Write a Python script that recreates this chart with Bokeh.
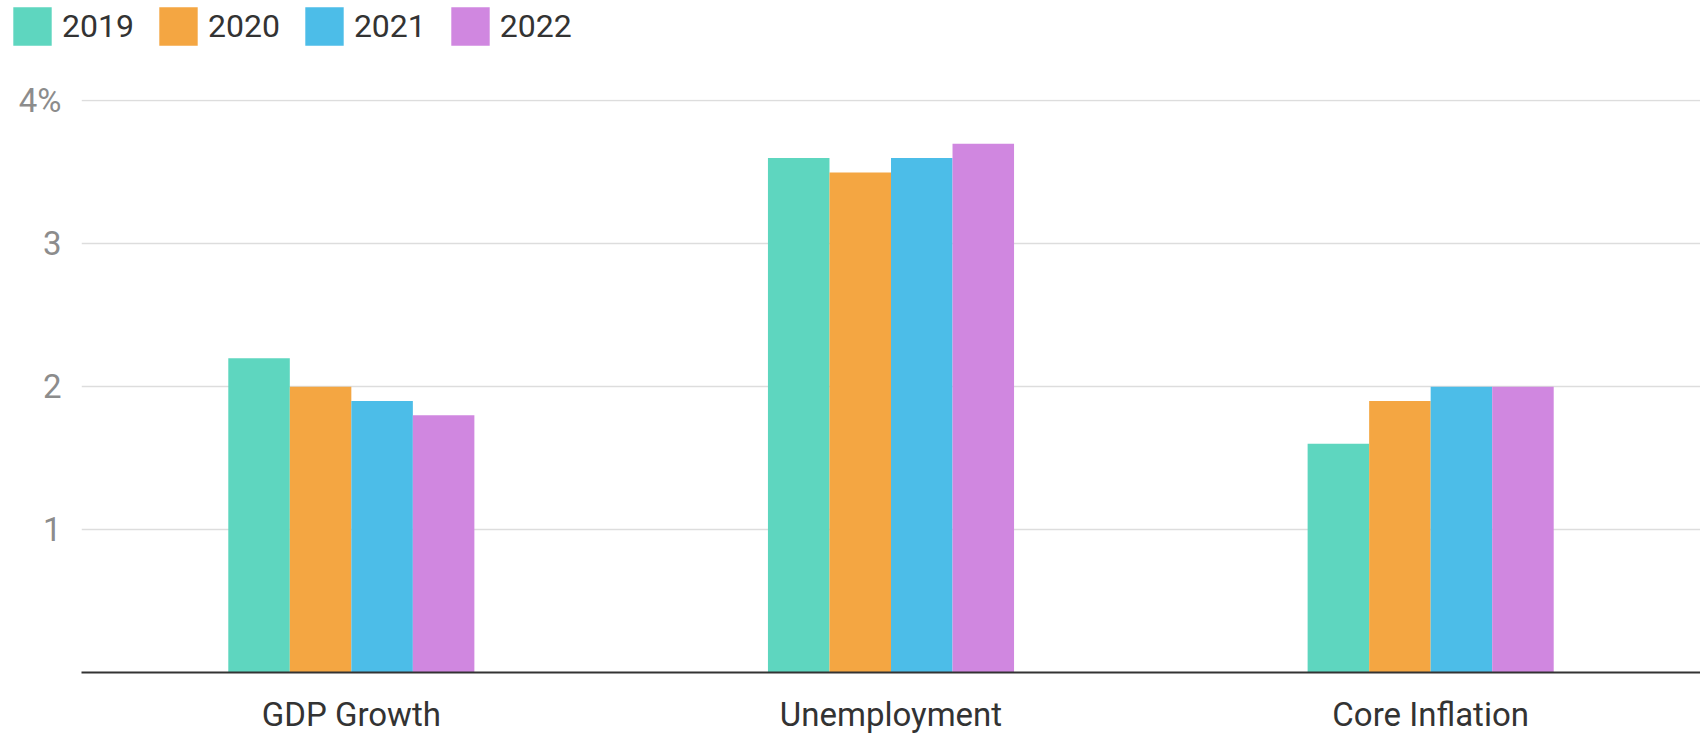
from bokeh.plotting import figure
from bokeh.layouts import column
from bokeh.models import FactorRange, Range1d, FixedTicker, Legend, LegendItem, ColumnDataSource
from bokeh.transform import dodge
from bokeh.embed import file_html
from bokeh.resources import INLINE

categories = ["GDP Growth", "Unemployment", "Core Inflation"]
years = ["2019", "2020", "2021", "2022"]
v2019 = [2.2, 3.6, 1.6]
v2020 = [2.0, 3.5, 1.9]
v2021 = [1.9, 3.6, 2.0]
v2022 = [1.8, 3.7, 2.0]
colors = ["#5ed6bf", "#f4a642", "#4cbde8", "#d087e0"]
y_ticks = [0, 1, 2, 3, 4]

FONT = "Roboto"
LEG_H = 55

src = ColumnDataSource(dict(cat=categories, y2019=v2019, y2020=v2020, y2021=v2021, y2022=v2022))

# ---- legend strip ----
lf = figure(width=1700, height=LEG_H, x_range=FactorRange(*categories), y_range=Range1d(0, 1),
            output_backend="svg", toolbar_location=None,
            x_axis_location=None, y_axis_location=None,
            min_border=0, min_border_left=0, min_border_right=0, min_border_top=0, min_border_bottom=0)
lf.frame_align = False
lf.outline_line_color = None
lf.xgrid.visible = False
lf.ygrid.visible = False
leg_renderers = []
for yr, col in zip(years, colors):
    leg_renderers.append(lf.vbar(x="cat", top="y" + yr, width=0.1, source=src,
                                 fill_color=col, line_color=None, visible=False))
legend = Legend(items=[LegendItem(label=yr, renderers=[r]) for yr, r in zip(years, leg_renderers)],
                orientation="horizontal", location=(8, 5),
                glyph_width=48, glyph_height=48, label_standoff=6, spacing=20,
                padding=0, margin=0, border_line_color=None, background_fill_alpha=0,
                inactive_fill_alpha=0, click_policy="none",
                label_text_font=FONT, label_text_font_size="32px", label_text_color="#333333")
lf.add_layout(legend, "center")

# ---- main chart ----
p = figure(width=1700, height=736 - LEG_H, x_range=FactorRange(*categories, range_padding=0),
           y_range=Range1d(0, 4.01), output_backend="svg", toolbar_location=None,
           min_border_left=81, min_border_right=0, min_border_top=100 - LEG_H - 1, min_border_bottom=63)

bw = 0.114
offsets = [-1.5 * bw, -0.5 * bw, 0.5 * bw, 1.5 * bw]
for yr, off, col in zip(years, offsets, colors):
    p.vbar(x=dodge("cat", off, range=p.x_range), top="y" + yr, width=bw, source=src,
           fill_color=col, line_color=None)

p.outline_line_color = None
p.xgrid.grid_line_color = None
p.ygrid.grid_line_color = "#dddddd"
p.ygrid.grid_line_width = 1.5
p.ygrid.ticker = FixedTicker(ticks=y_ticks)

p.yaxis.ticker = FixedTicker(ticks=y_ticks)
p.yaxis.major_label_overrides = {0: "", 4: "4%"}
p.yaxis.axis_line_color = None
p.yaxis.major_tick_line_color = None
p.yaxis.minor_tick_line_color = None
p.yaxis.major_label_text_font = FONT
p.yaxis.major_label_text_font_size = "33px"
p.yaxis.major_label_text_color = "#8c8c8c"
p.yaxis.major_label_standoff = 14

p.xaxis.axis_line_color = "#333333"
p.xaxis.axis_line_width = 2
p.xaxis.major_tick_line_color = None
p.xaxis.minor_tick_line_color = None
p.xaxis.major_label_text_font = FONT
p.xaxis.major_label_text_font_size = "33px"
p.xaxis.major_label_text_color = "#333333"
p.xaxis.major_label_standoff = 16

layout = column(lf, p, spacing=0)
open("out.html", "w").write(file_html(layout, INLINE))
